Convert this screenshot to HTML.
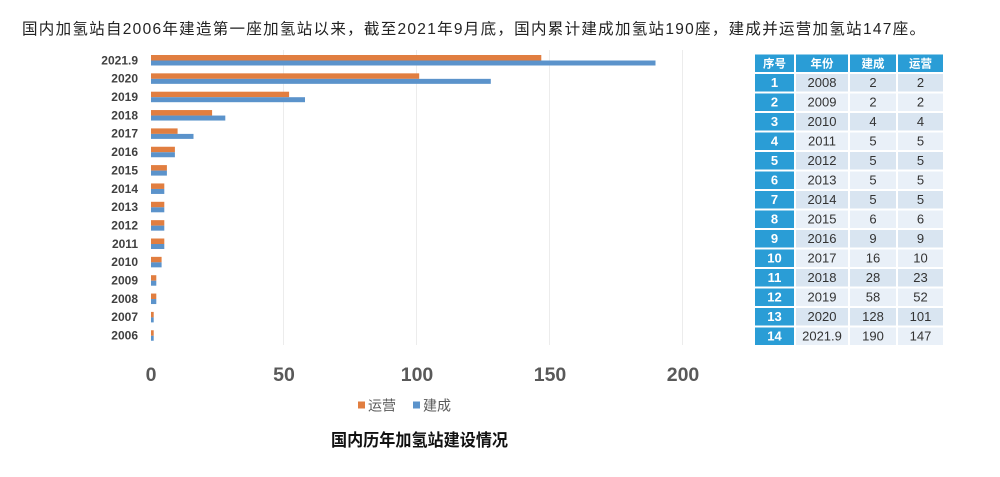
<!DOCTYPE html>
<html><head><meta charset="utf-8">
<style>
html,body{margin:0;padding:0;background:#fff;}
svg{display:block;}
</style></head>
<body>
<svg width="1000" height="477" viewBox="0 0 1000 477" xmlns="http://www.w3.org/2000/svg">
<rect width="1000" height="477" fill="#fff"/>
<text x="22" y="34" font-family="Liberation Sans, Noto Sans CJK SC, sans-serif" font-size="15.5" fill="#222" textLength="903" lengthAdjust="spacing">国内加氢站自2006年建造第一座加氢站以来，截至2021年9月底，国内累计建成加氢站190座，建成并运营加氢站147座。</text>

<!-- gridlines -->
<g stroke="#ececec" stroke-width="1">
<line x1="283.5" y1="50" x2="283.5" y2="345"/>
<line x1="416.5" y1="50" x2="416.5" y2="345"/>
<line x1="549.5" y1="50" x2="549.5" y2="345"/>
<line x1="682.5" y1="50" x2="682.5" y2="345"/>
</g>

<!-- bars: scale 2.655 px/unit, zero at 151 -->
<g id="bars">
<rect x="151" y="55" width="390.3" height="5.5" fill="#E17E40"/>
<rect x="151" y="60.5" width="504.5" height="5" fill="#5B93CB"/>
<rect x="151" y="73.35" width="268.2" height="5.5" fill="#E17E40"/>
<rect x="151" y="78.85" width="339.8" height="5" fill="#5B93CB"/>
<rect x="151" y="91.7" width="138.1" height="5.5" fill="#E17E40"/>
<rect x="151" y="97.2" width="154" height="5" fill="#5B93CB"/>
<rect x="151" y="110.05" width="61.1" height="5.5" fill="#E17E40"/>
<rect x="151" y="115.55" width="74.3" height="5" fill="#5B93CB"/>
<rect x="151" y="128.4" width="26.6" height="5.5" fill="#E17E40"/>
<rect x="151" y="133.9" width="42.5" height="5" fill="#5B93CB"/>
<rect x="151" y="146.75" width="23.9" height="5.5" fill="#E17E40"/>
<rect x="151" y="152.25" width="23.9" height="5" fill="#5B93CB"/>
<rect x="151" y="165.1" width="15.9" height="5.5" fill="#E17E40"/>
<rect x="151" y="170.6" width="15.9" height="5" fill="#5B93CB"/>
<rect x="151" y="183.45" width="13.3" height="5.5" fill="#E17E40"/>
<rect x="151" y="188.95" width="13.3" height="5" fill="#5B93CB"/>
<rect x="151" y="201.8" width="13.3" height="5.5" fill="#E17E40"/>
<rect x="151" y="207.3" width="13.3" height="5" fill="#5B93CB"/>
<rect x="151" y="220.15" width="13.3" height="5.5" fill="#E17E40"/>
<rect x="151" y="225.65" width="13.3" height="5" fill="#5B93CB"/>
<rect x="151" y="238.5" width="13.3" height="5.5" fill="#E17E40"/>
<rect x="151" y="244" width="13.3" height="5" fill="#5B93CB"/>
<rect x="151" y="256.85" width="10.6" height="5.5" fill="#E17E40"/>
<rect x="151" y="262.35" width="10.6" height="5" fill="#5B93CB"/>
<rect x="151" y="275.2" width="5.3" height="5.5" fill="#E17E40"/>
<rect x="151" y="280.7" width="5.3" height="5" fill="#5B93CB"/>
<rect x="151" y="293.55" width="5.3" height="5.5" fill="#E17E40"/>
<rect x="151" y="299.05" width="5.3" height="5" fill="#5B93CB"/>
<rect x="151" y="311.9" width="2.7" height="5.5" fill="#E17E40"/>
<rect x="151" y="317.4" width="2.7" height="5" fill="#5B93CB"/>
<rect x="151" y="330.25" width="2.7" height="5.5" fill="#E17E40"/>
<rect x="151" y="335.75" width="2.7" height="5" fill="#5B93CB"/>
</g>

<!-- category labels -->
<g font-family="Liberation Sans, sans-serif" font-size="12" font-weight="bold" fill="#404040" text-anchor="end">
<text x="138" y="64.3">2021.9</text>
<text x="138" y="82.65">2020</text>
<text x="138" y="101">2019</text>
<text x="138" y="119.35">2018</text>
<text x="138" y="137.7">2017</text>
<text x="138" y="156.05">2016</text>
<text x="138" y="174.4">2015</text>
<text x="138" y="192.75">2014</text>
<text x="138" y="211.1">2013</text>
<text x="138" y="229.45">2012</text>
<text x="138" y="247.8">2011</text>
<text x="138" y="266.15">2010</text>
<text x="138" y="284.5">2009</text>
<text x="138" y="302.85">2008</text>
<text x="138" y="321.2">2007</text>
<text x="138" y="339.55">2006</text>
</g>

<!-- x tick labels -->
<g font-family="Liberation Sans, sans-serif" font-size="19.5" font-weight="bold" fill="#595959" text-anchor="middle">
<text x="151" y="381">0</text>
<text x="284" y="381">50</text>
<text x="417" y="381">100</text>
<text x="550" y="381">150</text>
<text x="683" y="381">200</text>
</g>

<!-- legend -->
<rect x="358" y="401.5" width="7" height="7" fill="#E17E40"/>
<text x="368" y="410.5" font-family="Liberation Sans, Noto Sans CJK SC, sans-serif" font-size="14" fill="#595959">运营</text>
<rect x="413" y="401.5" width="7" height="7" fill="#5B93CB"/>
<text x="423" y="410.5" font-family="Liberation Sans, Noto Sans CJK SC, sans-serif" font-size="14" fill="#595959">建成</text>

<!-- title -->
<text x="331" y="446" font-family="Liberation Sans, Noto Sans CJK SC, sans-serif" font-size="17" font-weight="bold" fill="#111" textLength="177" lengthAdjust="spacingAndGlyphs">国内历年加氢站建设情况</text>

<!-- table -->
<g>
<rect x="755" y="54.5" width="39" height="17.5" fill="#2A9DD6"/>
<rect x="796" y="54.5" width="52" height="17.5" fill="#2A9DD6"/>
<rect x="850" y="54.5" width="46" height="17.5" fill="#2A9DD6"/>
<rect x="898" y="54.5" width="45" height="17.5" fill="#2A9DD6"/>
<g font-family="Liberation Sans, Noto Sans CJK SC, sans-serif" font-size="11.5" font-weight="bold" fill="#fff" text-anchor="middle">
<text x="774.5" y="67.5">序号</text>
<text x="822" y="67.5">年份</text>
<text x="873" y="67.5">建成</text>
<text x="920.5" y="67.5">运营</text>
</g>
</g>

<g id="rows" font-family="Liberation Sans, sans-serif" font-size="13" text-anchor="middle">
<g>
<rect x="755" y="74" width="39" height="17.5" fill="#2A9DD6"/>
<rect x="796" y="74" width="147" height="17.5" fill="#D9E5F1"/>
<text x="774.5" y="87" fill="#fff" font-weight="bold">1</text>
<text x="822" y="87" fill="#333">2008</text><text x="873" y="87" fill="#333">2</text><text x="920.5" y="87" fill="#333">2</text>
</g>
<g>
<rect x="755" y="93.5" width="39" height="17.5" fill="#2A9DD6"/>
<rect x="796" y="93.5" width="147" height="17.5" fill="#E9F0F8"/>
<text x="774.5" y="106.5" fill="#fff" font-weight="bold">2</text>
<text x="822" y="106.5" fill="#333">2009</text><text x="873" y="106.5" fill="#333">2</text><text x="920.5" y="106.5" fill="#333">2</text>
</g>
<g>
<rect x="755" y="113" width="39" height="17.5" fill="#2A9DD6"/>
<rect x="796" y="113" width="147" height="17.5" fill="#D9E5F1"/>
<text x="774.5" y="126" fill="#fff" font-weight="bold">3</text>
<text x="822" y="126" fill="#333">2010</text><text x="873" y="126" fill="#333">4</text><text x="920.5" y="126" fill="#333">4</text>
</g>
<g>
<rect x="755" y="132.5" width="39" height="17.5" fill="#2A9DD6"/>
<rect x="796" y="132.5" width="147" height="17.5" fill="#E9F0F8"/>
<text x="774.5" y="145.5" fill="#fff" font-weight="bold">4</text>
<text x="822" y="145.5" fill="#333">2011</text><text x="873" y="145.5" fill="#333">5</text><text x="920.5" y="145.5" fill="#333">5</text>
</g>
<g>
<rect x="755" y="152" width="39" height="17.5" fill="#2A9DD6"/>
<rect x="796" y="152" width="147" height="17.5" fill="#D9E5F1"/>
<text x="774.5" y="165" fill="#fff" font-weight="bold">5</text>
<text x="822" y="165" fill="#333">2012</text><text x="873" y="165" fill="#333">5</text><text x="920.5" y="165" fill="#333">5</text>
</g>
<g>
<rect x="755" y="171.5" width="39" height="17.5" fill="#2A9DD6"/>
<rect x="796" y="171.5" width="147" height="17.5" fill="#E9F0F8"/>
<text x="774.5" y="184.5" fill="#fff" font-weight="bold">6</text>
<text x="822" y="184.5" fill="#333">2013</text><text x="873" y="184.5" fill="#333">5</text><text x="920.5" y="184.5" fill="#333">5</text>
</g>
<g>
<rect x="755" y="191" width="39" height="17.5" fill="#2A9DD6"/>
<rect x="796" y="191" width="147" height="17.5" fill="#D9E5F1"/>
<text x="774.5" y="204" fill="#fff" font-weight="bold">7</text>
<text x="822" y="204" fill="#333">2014</text><text x="873" y="204" fill="#333">5</text><text x="920.5" y="204" fill="#333">5</text>
</g>
<g>
<rect x="755" y="210.5" width="39" height="17.5" fill="#2A9DD6"/>
<rect x="796" y="210.5" width="147" height="17.5" fill="#E9F0F8"/>
<text x="774.5" y="223.5" fill="#fff" font-weight="bold">8</text>
<text x="822" y="223.5" fill="#333">2015</text><text x="873" y="223.5" fill="#333">6</text><text x="920.5" y="223.5" fill="#333">6</text>
</g>
<g>
<rect x="755" y="230" width="39" height="17.5" fill="#2A9DD6"/>
<rect x="796" y="230" width="147" height="17.5" fill="#D9E5F1"/>
<text x="774.5" y="243" fill="#fff" font-weight="bold">9</text>
<text x="822" y="243" fill="#333">2016</text><text x="873" y="243" fill="#333">9</text><text x="920.5" y="243" fill="#333">9</text>
</g>
<g>
<rect x="755" y="249.5" width="39" height="17.5" fill="#2A9DD6"/>
<rect x="796" y="249.5" width="147" height="17.5" fill="#E9F0F8"/>
<text x="774.5" y="262.5" fill="#fff" font-weight="bold">10</text>
<text x="822" y="262.5" fill="#333">2017</text><text x="873" y="262.5" fill="#333">16</text><text x="920.5" y="262.5" fill="#333">10</text>
</g>
<g>
<rect x="755" y="269" width="39" height="17.5" fill="#2A9DD6"/>
<rect x="796" y="269" width="147" height="17.5" fill="#D9E5F1"/>
<text x="774.5" y="282" fill="#fff" font-weight="bold">11</text>
<text x="822" y="282" fill="#333">2018</text><text x="873" y="282" fill="#333">28</text><text x="920.5" y="282" fill="#333">23</text>
</g>
<g>
<rect x="755" y="288.5" width="39" height="17.5" fill="#2A9DD6"/>
<rect x="796" y="288.5" width="147" height="17.5" fill="#E9F0F8"/>
<text x="774.5" y="301.5" fill="#fff" font-weight="bold">12</text>
<text x="822" y="301.5" fill="#333">2019</text><text x="873" y="301.5" fill="#333">58</text><text x="920.5" y="301.5" fill="#333">52</text>
</g>
<g>
<rect x="755" y="308" width="39" height="17.5" fill="#2A9DD6"/>
<rect x="796" y="308" width="147" height="17.5" fill="#D9E5F1"/>
<text x="774.5" y="321" fill="#fff" font-weight="bold">13</text>
<text x="822" y="321" fill="#333">2020</text><text x="873" y="321" fill="#333">128</text><text x="920.5" y="321" fill="#333">101</text>
</g>
<g>
<rect x="755" y="327.5" width="39" height="17.5" fill="#2A9DD6"/>
<rect x="796" y="327.5" width="147" height="17.5" fill="#E9F0F8"/>
<text x="774.5" y="340.5" fill="#fff" font-weight="bold">14</text>
<text x="822" y="340.5" fill="#333">2021.9</text><text x="873" y="340.5" fill="#333">190</text><text x="920.5" y="340.5" fill="#333">147</text>
</g>
<g fill="#fff">
<rect x="848" y="74" width="2" height="271"/>
<rect x="896" y="74" width="2" height="271"/>
</g>
</g>
</svg>
</body></html>
